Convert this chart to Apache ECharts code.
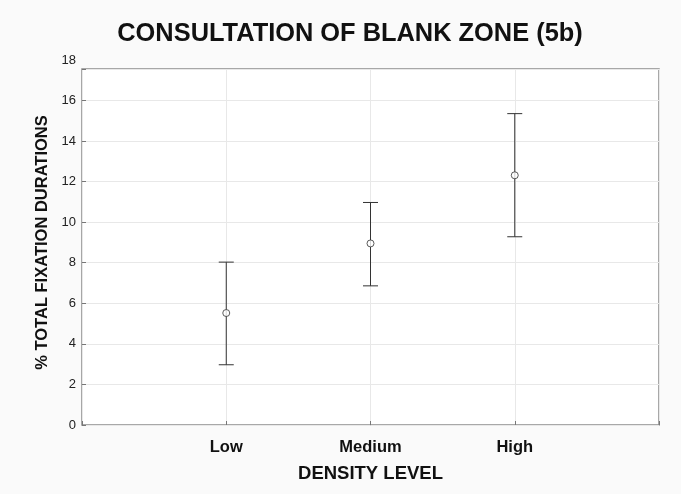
<!DOCTYPE html>
<html>
<head>
<meta charset="utf-8">
<script src="https://cdn.jsdelivr.net/npm/echarts@6/dist/echarts.min.js"></script>
<style>
html,body{margin:0;padding:0;background:#fafafa;}
#c{width:681px;height:494px;}
</style>
</head>
<body>
<div id="c"></div>
<script>
const categories = ['Low', 'Medium', 'High'];
const means = [5.52, 8.95, 12.31];
const lower = [2.97, 6.86, 9.28];
const upper = [8.03, 10.97, 15.35];
const yTickLabels = [0, 2, 4, 6, 8, 10, 12, 14, 16, 18];
const yFrameMax = 17.55;

const font = '"Liberation Sans", Arial, sans-serif';
const chart = echarts.init(document.getElementById('c'), null, {renderer: 'canvas'});

const errData = categories.map((c, i) => [i + 1, lower[i], upper[i]]);
const meanData = categories.map((c, i) => [i + 1, means[i]]);

chart.setOption({
  backgroundColor: '#fafafa',
  animation: false,
  title: {
    text: 'CONSULTATION OF BLANK ZONE (5b)',
    left: 345, top: 16, textAlign: 'center', padding: 5,
    textStyle: {fontFamily: font, fontSize: 25.4, fontWeight: 'bold', color: '#111'}
  },
  grid: [
    {left: 82, right: 22, top: 69, bottom: 69, show: true, backgroundColor: '#ffffff', borderColor: '#8c8c8c', borderWidth: 1.5, containLabel: false},
    {left: 82, right: 22, top: 60, bottom: 69, show: false, containLabel: false}
  ],
  xAxis: [
    {
      gridIndex: 0, type: 'value', min: 0, max: 4, interval: 1,
      axisLine: {show: false},
      axisTick: {show: true, inside: true, length: 4, lineStyle: {color: '#777'}},
      splitLine: {show: true, lineStyle: {color: '#e8e8e8', width: 1}},
      axisLabel: {
        margin: 14,
        fontFamily: font, fontSize: 16.5, fontWeight: 'bold', color: '#111',
        formatter: v => categories[v - 1] || ''
      },
      name: 'DENSITY LEVEL', nameLocation: 'middle', nameGap: 39,
      nameTextStyle: {fontFamily: font, fontSize: 18.5, fontWeight: 'bold', color: '#111'}
    },
    {gridIndex: 1, type: 'value', min: 0, max: 4, show: false}
  ],
  yAxis: [
    {
      gridIndex: 0, type: 'value', min: 0, max: yFrameMax, interval: 2,
      axisLine: {show: false},
      axisTick: {show: true, inside: true, length: 4, lineStyle: {color: '#777'}},
      splitLine: {show: true, lineStyle: {color: '#e8e8e8', width: 1}},
      axisLabel: {show: false}
    },
    {
      gridIndex: 1, type: 'value', min: yTickLabels[0], max: yTickLabels[yTickLabels.length - 1], interval: 2,
      axisLine: {show: false}, axisTick: {show: false}, splitLine: {show: false},
      axisLabel: {show: true, margin: 6, fontFamily: font, fontSize: 13, color: '#222'},
      name: '% TOTAL FIXATION DURATIONS', nameLocation: 'middle', nameGap: 30, nameRotate: 90,
      nameTextStyle: {fontFamily: font, fontSize: 16.5, fontWeight: 'bold', color: '#111'}
    }
  ],
  series: [
    {
      type: 'custom', xAxisIndex: 0, yAxisIndex: 0, data: errData, z: 3,
      renderItem: function (params, api) {
        const x = api.value(0);
        const lo = api.coord([x, api.value(1)]);
        const hi = api.coord([x, api.value(2)]);
        const hw = 7.5;
        const style = {stroke: '#333', lineWidth: 1, fill: null};
        return {
          type: 'group',
          children: [
            {type: 'line', shape: {x1: lo[0], y1: lo[1], x2: hi[0], y2: hi[1]}, style},
            {type: 'line', shape: {x1: hi[0] - hw, y1: hi[1], x2: hi[0] + hw, y2: hi[1]}, style},
            {type: 'line', shape: {x1: lo[0] - hw, y1: lo[1], x2: lo[0] + hw, y2: lo[1]}, style}
          ]
        };
      }
    },
    {
      type: 'scatter', xAxisIndex: 0, yAxisIndex: 0, data: meanData, z: 4,
      symbol: 'circle', symbolSize: 7,
      itemStyle: {color: '#ffffff', borderColor: '#333', borderWidth: 1}
    }
  ]
});
</script>
</body>
</html>
